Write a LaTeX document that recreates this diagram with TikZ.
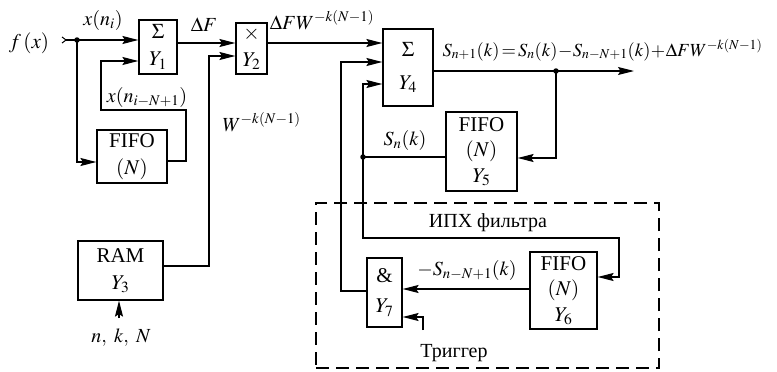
\documentclass[tikz,border=0pt]{standalone}
\usepackage{mathptmx}
\usepackage{fontspec}
\setmainfont{Liberation Serif}
\usetikzlibrary{arrows.meta}
\begin{document}
\begin{tikzpicture}[x=1pt,y=-1pt,
  line width=1.2pt,
  arr/.style={-{Stealth[length=16pt,width=8pt,inset=2.5pt]}},
  blk/.style={draw,line width=1.2pt,inner sep=0pt,align=center,font=\fontsize{21}{27}\selectfont},
  lbl/.style={inner sep=0pt,font=\fontsize{20}{24}\selectfont},
  dot/.style={circle,fill,inner sep=0pt,minimum size=5.5pt}]
\useasboundingbox (0,0) rectangle (777,372);
% blocks
\node[blk,minimum width=38pt,minimum height=54pt] (y1) at (158,47) {$\Sigma$\\$Y_1$};
\node[blk,minimum width=31pt,minimum height=51pt] (y2) at (251.5,48.5) {$\times$\\$Y_2$};
\node[blk,minimum width=70pt,minimum height=53pt] (f1) at (132,156.5) {FIFO\\$(N)$};
\node[blk,minimum width=85pt,minimum height=59pt] (y3) at (120.5,270.5) {RAM\\$Y_3$};
\node[blk,minimum width=50pt,minimum height=77pt,font=\fontsize{21}{33}\selectfont] (y4) at (408,67.5) {$\Sigma$\\$Y_4$};
\node[blk,minimum width=71pt,minimum height=79pt,font=\fontsize{21}{25.5}\selectfont] (y5) at (481.5,151.5) {FIFO\\$(N)$\\$Y_5$};
\node[blk,minimum width=67pt,minimum height=77pt,font=\fontsize{21}{25.5}\selectfont] (y6) at (563.5,290.5) {FIFO\\$(N)$\\$Y_6$};
\node[blk,minimum width=35pt,minimum height=69pt,font=\fontsize{21}{30}\selectfont] (y7) at (384.5,292.5) {\&\\$Y_7$};
\node[draw,dash pattern=on 13pt off 7pt,line width=1.2pt,minimum width=343pt,minimum height=165pt,inner sep=0pt] (dbox) at (487.5,285.5) {};
% coordinates
\coordinate (in) at (66,40);
\coordinate (j1) at (77,40);
\coordinate (j2) at (556,71);
\coordinate (j3) at (363,157);
\coordinate (out) at (634,71);
\coordinate (ramin) at (119,318);
\coordinate (trig) at (423,330);
% labels
\node[lbl,font=\fontsize{21}{24}\selectfont] (fx) at (29,43) {$f\,(x)$};
\node[lbl] (xni) at (103,20) {$x(n_i)$};
\node[lbl] (xnn) at (147,97) {$x(n_{i-N+1})$};
\node[lbl] (df) at (204,25) {$\Delta F$};
\node[lbl,anchor=west] (wk) at (222,122) {$W^{-k(N-1)}$};
\node[lbl] (dfw) at (322,20) {$\Delta F W^{-k(N-1)}$};
\node[lbl,anchor=west,font=\fontsize{18.5}{22}\selectfont] (eq) at (442,50) {$S_{n+1}(k)\!=\!S_n(k)\!-\!S_{n-N+1}(k)\!+\!\Delta F W^{-k(N-1)}$};
\node[lbl] (snk) at (405,140) {$S_n(k)$};
\node[lbl] (iph) at (488,223) {ИПХ фильтра};
\node[lbl] (msn) at (467,270) {$-S_{n-N+1}(k)$};
\node[lbl] (trg) at (454,353) {Триггер};
\node[lbl] (nkn) at (121,338) {$n,\ k,\ N$};
% input chevron
\draw[line width=1pt] (62,37) -- (in) -- (62,43);
\draw[arr] (in) -- (j1) -- (y1.west |- j1);
\node[dot] at (j1) {};
\draw[arr] (j1) |- (f1.west |- 0,162);
\draw[arr] (f1.east |- 0,161) -- (186,161) -- (186,110) -- (101,110) -- (101,61) -- (y1.west |- 0,61);
\draw[arr] (y1.east |- 0,43) -- (y2.west |- 0,43);
\draw[arr] (y3.east |- 0,266) -- (209,266) -- (209,56) -- (y2.west |- 0,56);
\draw[arr] (ramin) -- (y3.south -| ramin);
\draw[arr] (y2.east |- 0,43) -- (y4.west |- 0,43);
\draw[arr] (y4.east |- j2) -- (out);
\node[dot] at (j2) {};
\draw[arr] (j2) |- (y5.east |- 0,158);
\draw (y5.west |- j3) -- (j3);
\node[dot] at (j3) {};
\draw[arr] (j3) |- (y4.west |- 0,84);
\draw[arr] (j3) -- (363,238) -- (619,238) -- (619,277) -- (y6.east |- 0,277);
\draw[arr] (y6.west |- 0,289) -- (y7.east |- 0,289);
\draw[arr] (y7.west |- 0,291) -- (341,291) -- (341,62) -- (y4.west |- 0,62);
\draw[arr] (trig) |- (y7.east |- 0,317);
\end{tikzpicture}
\end{document}
